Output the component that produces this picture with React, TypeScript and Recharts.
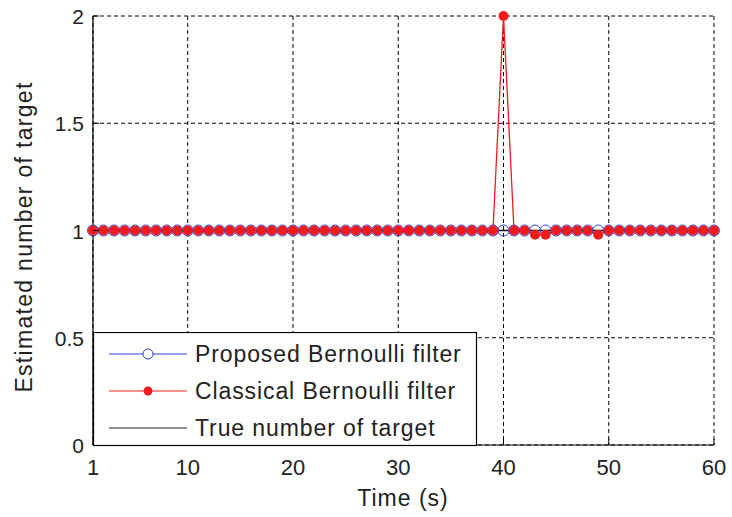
import { ComposedChart, Line, XAxis, YAxis, CartesianGrid } from 'recharts';

const time = [
  1, 2, 3, 4, 5, 6, 7, 8, 9, 10, 11, 12, 13, 14, 15, 16, 17, 18, 19, 20,
  21, 22, 23, 24, 25, 26, 27, 28, 29, 30, 31, 32, 33, 34, 35, 36, 37, 38, 39, 40,
  41, 42, 43, 44, 45, 46, 47, 48, 49, 50, 51, 52, 53, 54, 55, 56, 57, 58, 59, 60,
];

const proposed = [
  1, 1, 1, 1, 1, 1, 1, 1, 1, 1, 1, 1, 1, 1, 1, 1, 1, 1, 1, 1,
  1, 1, 1, 1, 1, 1, 1, 1, 1, 1, 1, 1, 1, 1, 1, 1, 1, 1, 1, 1,
  1, 1, 1, 1, 1, 1, 1, 1, 1, 1, 1, 1, 1, 1, 1, 1, 1, 1, 1, 1,
];

const classical = [
  1, 1, 1, 1, 1, 1, 1, 1, 1, 1, 1, 1, 1, 1, 1, 1, 1, 1, 1, 1,
  1, 1, 1, 1, 1, 1, 1, 1, 1, 1, 1, 1, 1, 1, 1, 1, 1, 1, 1, 2,
  1, 1, 0.98, 0.98, 1, 1, 1, 1, 0.98, 1, 1, 1, 1, 1, 1, 1, 1, 1, 1, 1,
];

const trueCount = [
  1, 1, 1, 1, 1, 1, 1, 1, 1, 1, 1, 1, 1, 1, 1, 1, 1, 1, 1, 1,
  1, 1, 1, 1, 1, 1, 1, 1, 1, 1, 1, 1, 1, 1, 1, 1, 1, 1, 1, 1,
  1, 1, 1, 1, 1, 1, 1, 1, 1, 1, 1, 1, 1, 1, 1, 1, 1, 1, 1, 1,
];

const xTicks = [1, 10, 20, 30, 40, 50, 60];
const yTicks = [0, 0.5, 1, 1.5, 2];

const seriesNames = ['Proposed Bernoulli filter', 'Classical Bernoulli filter', 'True number of target'];

const BLUE = '#2b3fd6';
const RED = '#f01c1c';
const FONT = '"Liberation Sans", Arial, sans-serif';

const data = time.map((t, i) => ({
  t,
  proposed: proposed[i],
  classical: classical[i],
  truth: trueCount[i],
}));

function BottomTick({ x, y, payload }: any) {
  return (
    <g>
      <line x1={x} y1={y} x2={x} y2={y - 6} stroke="#000" />
      <text x={x} y={y + 30} textAnchor="middle" fontSize={22} fontFamily={FONT} fill="#222">
        {payload.value}
      </text>
    </g>
  );
}

function LeftTick({ x, y, payload }: any) {
  return (
    <g>
      <line x1={x} y1={y} x2={x + 6} y2={y} stroke="#000" />
      <text x={x - 9} y={y + 8} textAnchor="end" fontSize={21} fontFamily={FONT} fill="#222">
        {payload.value}
      </text>
    </g>
  );
}

function TopTick({ x, y }: any) {
  return <line x1={x} y1={y} x2={x} y2={y + 6} stroke="#000" />;
}

function RightTick({ x, y }: any) {
  return <line x1={x} y1={y} x2={x - 6} y2={y} stroke="#000" />;
}

function LegendBox() {
  const rows = [22, 59, 96];
  return (
    <svg width={385} height={115} style={{ display: 'block' }}>
      <rect x={0.5} y={0.5} width={383} height={113} fill="#fff" stroke="#000" strokeWidth={1.2} />
      <line x1={16} y1={rows[0]} x2={94} y2={rows[0]} stroke={BLUE} strokeWidth={1} />
      <circle cx={55} cy={rows[0]} r={5} fill="#fff" stroke={BLUE} strokeWidth={1} />
      <line x1={16} y1={rows[1]} x2={94} y2={rows[1]} stroke={RED} strokeWidth={1.2} />
      <circle cx={55} cy={rows[1]} r={4.5} fill={RED} />
      <line x1={16} y1={rows[2]} x2={94} y2={rows[2]} stroke="#222" strokeWidth={1.2} />
      {seriesNames.map((n, i) => (
        <text
          key={n}
          x={102}
          y={rows[i] + 8}
          fontSize={23}
          fontFamily={FONT}
          fill="#222"
          letterSpacing={0.9}
        >
          {n}
        </text>
      ))}
    </svg>
  );
}

export default function App() {
  return (
    <div style={{ position: 'absolute', left: 0, top: 0, width: 732, height: 517, background: '#fff' }}>
      <ComposedChart
        width={732}
        height={517}
        data={data}
        margin={{ top: 16, right: 18, bottom: 42, left: 0 }}
      >
        <CartesianGrid xAxisId="b" yAxisId="l" stroke="#000" strokeDasharray="4 3" strokeWidth={1} />
        <XAxis
          xAxisId="b"
          dataKey="t"
          type="number"
          domain={[1, 60]}
          ticks={xTicks}
          height={30}
          tickSize={0}
          tickMargin={0}
          tickLine={false}
          axisLine={{ stroke: '#000', strokeWidth: 1.2 }}
          tick={<BottomTick />}
          interval={0}
        />
        <XAxis
          xAxisId="top"
          orientation="top"
          dataKey="t"
          type="number"
          domain={[1, 60]}
          ticks={xTicks}
          height={0}
          tickSize={0}
          tickLine={false}
          axisLine={{ stroke: '#000', strokeWidth: 1.2 }}
          tick={<TopTick />}
          interval={0}
        />
        <YAxis
          yAxisId="l"
          type="number"
          domain={[0, 2]}
          ticks={yTicks}
          width={93}
          tickSize={0}
          tickMargin={0}
          tickLine={false}
          axisLine={{ stroke: '#000', strokeWidth: 1.2 }}
          tick={<LeftTick />}
          interval={0}
        />
        <YAxis
          yAxisId="r"
          orientation="right"
          type="number"
          domain={[0, 2]}
          ticks={yTicks}
          width={0}
          tickSize={0}
          tickLine={false}
          axisLine={{ stroke: '#000', strokeWidth: 1.2 }}
          tick={<RightTick />}
          interval={0}
        />
        <Line
          xAxisId="b"
          yAxisId="l"
          dataKey="proposed"
          stroke={BLUE}
          strokeWidth={1}
          dot={{ r: 5.5, fill: '#fff', fillOpacity: 0, stroke: BLUE, strokeWidth: 1 }}
          isAnimationActive={false}
        />
        <Line
          xAxisId="b"
          yAxisId="l"
          dataKey="classical"
          stroke={RED}
          strokeWidth={1.3}
          dot={{ r: 5, fill: RED, stroke: RED, strokeWidth: 0 }}
          isAnimationActive={false}
        />
        <Line
          xAxisId="b"
          yAxisId="l"
          dataKey="truth"
          stroke="#111"
          strokeWidth={1.4}
          dot={false}
          isAnimationActive={false}
        />
        <text
          x={403}
          y={506}
          textAnchor="middle"
          fontSize={23}
          fontFamily={FONT}
          fill="#222"
          letterSpacing={1}
        >
          Time (s)
        </text>
        <text
          x={32}
          y={237}
          textAnchor="middle"
          fontSize={23}
          fontFamily={FONT}
          fill="#222"
          letterSpacing={1.3}
          transform="rotate(-90 32 237)"
        >
          Estimated number of target
        </text>
      </ComposedChart>
      <div style={{ position: 'absolute', left: 93, top: 332 }}>
        <LegendBox />
      </div>
    </div>
  );
}
